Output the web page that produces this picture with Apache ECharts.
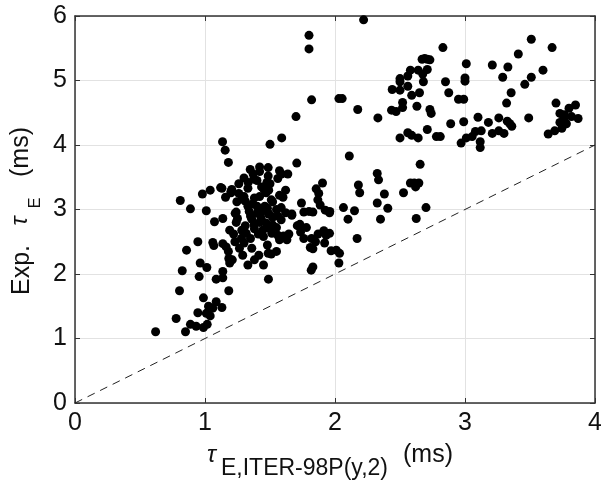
<!DOCTYPE html>
<html>
<head>
<meta charset="utf-8">
<script src="https://cdn.jsdelivr.net/npm/echarts@6/dist/echarts.min.js"></script>
<style>html,body{margin:0;padding:0;background:#fff}#c{width:601px;height:482px}</style>
</head>
<body>
<div id="c"></div>
<script>
// τ_E,ITER-98P(y,2) (ms) — scaling prediction
var tauScaling = [
1.80,1.80,1.82,2.03,1.70,1.59,1.50,1.135,1.155,1.18,1.706,2.22,2.83,3.51,3.67,3.41,2.67,2.69,2.71,2.73,
3.01,3.21,3.33,3.60,2.58,2.64,2.71,2.56,2.50,2.675,3.29,3.51,3.00,3.00,2.85,2.68,2.50,3.46,2.56,2.44,
2.50,2.65,2.59,2.875,3.355,2.055,2.95,2.99,2.52,2.175,2.435,2.47,2.52,2.63,2.73,2.74,3.32,3.70,2.33,2.89,
2.99,3.10,3.18,3.26,3.49,3.325,3.345,3.36,3.73,3.80,3.85,3.87,3.78,3.745,3.69,3.64,3.765,3.82,3.73,3.76,
2.71,2.56,2.59,2.64,2.50,2.78,2.81,2.97,3.01,3.055,3.08,3.125,3.117,3.117,3.21,3.26,3.30,2.11,2.655,2.325,
2.335,2.18,2.19,2.38,2.58,2.61,2.645,2.62,2.527,2.325,2.406,2.70,2.065,2.15,1.96,2.10,2.35,2.625,2.17,1.958,
1.958,1.97,2.01,2.035,2.03,
1.348,1.42,1.486,1.486,1.573,1.588,1.637,1.30,1.375,1.332,1.435,1.476,1.49,1.45,1.33,1.13,1.206,1.04,0.98,1.158,
1.20,0.81,0.888,1.01,1.245,1.286,1.31,1.42,1.51,1.573,1.60,1.586,1.368,1.34,1.24,1.427,1.488,1.668,1.742,1.904,
1.855,1.875,1.868,1.886,1.925,1.76,1.83,1.80,1.073,1.137,1.232,1.24,1.19,1.22,1.283,1.317,1.378,1.40,1.432,1.445,
1.47,1.49,1.514,1.573,1.604,1.645,1.668,1.586,1.52,1.73,1.735,1.82,1.914,1.932,1.92,1.81,1.83,1.83,1.817,1.488,
1.33,1.29,1.414,1.486,1.51,1.265,1.183,1.19,1.21,1.163,1.137,1.06,1.068,0.945,0.858,0.963,1.014,0.825,0.955,1.086,
1.137,1.137,0.804,1.183,0.988,1.027,1.086,1.13,1.06,0.945,1.01,1.04,0.778,0.888,0.932,0.988,1.017,0.85,0.62,
1.12,1.20,1.26,1.30,1.42,1.46,1.52,1.40,1.46,1.55,1.62,1.36,1.42,1.38,1.50,1.45,1.35,1.28,1.25,1.56,
1.63,1.71,1.78,1.87,1.76,1.85,1.30,1.36,1.48,1.55,1.38,1.45,1.18,1.23,1.31,1.56,1.33,1.50,1.40,1.56,
1.26,1.37,1.62,1.44,1.52,1.35,1.48,1.41,1.29,1.55,1.47,1.38
];
// Exp. τ_E (ms) — measured
var tauExp = [
5.70,5.49,4.70,4.72,4.44,4.11,4.01,4.05,3.92,3.73,3.72,5.94,5.51,5.64,5.51,5.41,5.33,5.34,5.33,5.32,
5.26,5.24,5.21,5.16,5.16,5.16,5.17,5.07,5.03,5.10,5.05,5.05,5.04,4.99,4.98,4.98,4.98,4.94,4.91,4.86,
4.85,4.81,4.77,4.81,4.81,4.72,4.71,4.71,4.66,4.55,4.54,4.52,4.58,4.60,4.55,4.49,4.65,4.65,4.42,4.33,
4.36,4.43,4.35,4.42,4.42,4.37,4.33,4.29,4.49,4.57,4.62,4.41,4.33,4.26,4.22,4.17,4.47,4.44,4.35,4.40,
4.24,4.19,4.15,4.11,4.11,4.13,4.13,4.03,4.11,4.13,4.21,4.22,4.05,3.96,4.18,4.22,4.18,3.83,3.70,3.56,
3.46,3.38,3.26,3.24,3.41,3.41,3.41,3.35,3.26,3.10,3.02,3.03,3.03,2.98,2.97,2.85,2.85,2.86,2.55,2.95,
2.63,2.36,2.37,2.32,2.17,
3.62,3.59,3.65,3.52,3.60,3.55,3.55,3.49,3.47,3.42,3.35,3.42,3.30,3.32,3.33,3.33,3.31,3.30,3.24,3.19,
3.28,3.14,3.01,2.98,3.12,3.16,3.13,3.20,3.15,3.22,3.19,3.03,3.09,2.97,2.96,3.00,2.94,2.93,3.10,3.41,
3.32,3.25,3.15,3.07,2.99,2.96,2.96,2.97,2.81,2.86,2.94,2.80,2.68,2.62,2.68,2.63,2.76,2.94,2.86,2.68,
2.79,2.93,2.63,2.53,2.59,2.62,2.91,2.84,2.76,2.77,2.65,2.55,2.67,2.60,2.48,2.41,2.39,2.11,2.06,1.92,
2.14,2.29,2.29,2.32,2.31,2.40,2.24,2.17,2.22,2.42,2.47,2.49,2.44,2.50,2.37,2.17,2.10,2.05,1.96,1.92,
1.94,2.04,1.74,1.74,1.63,1.50,1.57,1.48,1.47,1.40,1.39,1.35,1.31,1.22,1.19,1.17,1.22,1.105,1.105,
3.34,3.26,3.25,3.20,3.66,3.31,3.12,3.05,3.05,3.00,2.95,2.85,2.80,2.70,2.70,2.58,2.55,2.55,2.86,2.60,
2.53,2.75,2.72,2.62,2.55,2.50,2.48,2.40,2.45,2.35,2.22,2.14,2.35,2.50,2.75,2.90,3.05,3.40,3.45,3.48,
3.40,3.55,3.30,2.98,2.88,2.90,3.02,2.62,2.66,2.72,3.26,3.18
];
// y = x reference line endpoints
var refX = [0, 4];
var refY = [0, 4];
var xTicks = [0, 1, 2, 3, 4];
var yTicks = [0, 1, 2, 3, 4, 5, 6];

var pts = tauScaling.map(function (x, i) { return [x, tauExp[i]]; });
var refLine = refX.map(function (x, i) { return [x, refY[i]]; });

var FONT = 'Liberation Sans, Arial, sans-serif';
var axisCol = '#333';
function mkX(pos, primary) {
  return {
    type: 'value', position: pos, min: xTicks[0], max: xTicks[xTicks.length - 1], interval: 1,
    axisLine: { show: true, onZero: false, lineStyle: { color: axisCol, width: 1.5 } },
    axisTick: { show: true, inside: true, length: 5, lineStyle: { color: axisCol, width: 1 } },
    axisLabel: { show: primary, fontSize: 25, color: '#111', fontFamily: FONT, margin: 8, hideOverlap: false },
    splitLine: { show: primary, lineStyle: { color: '#e2e2e2', width: 1 } }
  };
}
function mkY(pos, primary) {
  return {
    type: 'value', position: pos, min: yTicks[0], max: yTicks[yTicks.length - 1], interval: 1,
    axisLine: { show: true, onZero: false, lineStyle: { color: axisCol, width: 1.5 } },
    axisTick: { show: true, inside: true, length: 5, lineStyle: { color: axisCol, width: 1 } },
    axisLabel: { show: primary, fontSize: 25, color: '#111', fontFamily: FONT, margin: 8, hideOverlap: false },
    splitLine: { show: primary, lineStyle: { color: '#e2e2e2', width: 1 } }
  };
}

var chart = echarts.init(document.getElementById('c'), null, { renderer: 'canvas' });
chart.setOption({
  animation: false,
  backgroundColor: '#fff',
  grid: { left: 75, right: 6, top: 16, bottom: 79, containLabel: false, outerBoundsMode: 'none' },
  xAxis: [mkX('bottom', true), mkX('top', false)],
  yAxis: [mkY('left', true), mkY('right', false)],
  series: [
    {
      type: 'line', data: refLine, xAxisIndex: 0, yAxisIndex: 0, symbol: 'none', z: 1,
      lineStyle: { color: '#222', width: 1, type: [8, 6] }
    },
    {
      type: 'scatter', data: pts, xAxisIndex: 0, yAxisIndex: 0, symbolSize: 9, z: 2,
      itemStyle: { color: '#000', opacity: 1 }
    }
  ],
  graphic: [
    { type: 'text', x: 207, y: 455, style: { text: 'τ', font: 'italic 24px ' + FONT, fill: '#111', textAlign: 'left', textVerticalAlign: 'middle' } },
    { type: 'text', x: 221, y: 469, style: { text: 'E,ITER-98P(y,2)', font: '23px ' + FONT, fill: '#111', textAlign: 'left', textVerticalAlign: 'middle' } },
    { type: 'text', x: 403, y: 455, style: { text: '(ms)', font: '25px ' + FONT, fill: '#111', textAlign: 'left', textVerticalAlign: 'middle' } },
    { type: 'text', x: 22, y: 270, rotation: Math.PI / 2, style: { text: 'Exp.', font: '25px ' + FONT, fill: '#111', textAlign: 'center', textVerticalAlign: 'middle' } },
    { type: 'text', x: 20, y: 221, rotation: Math.PI / 2, style: { text: 'τ', font: 'italic 24px ' + FONT, fill: '#111', textAlign: 'center', textVerticalAlign: 'middle' } },
    { type: 'text', x: 36, y: 203, rotation: Math.PI / 2, style: { text: 'E', font: '16px ' + FONT, fill: '#111', textAlign: 'center', textVerticalAlign: 'middle' } },
    { type: 'text', x: 21, y: 152, rotation: Math.PI / 2, style: { text: '(ms)', font: '25px ' + FONT, fill: '#111', textAlign: 'center', textVerticalAlign: 'middle' } }
  ]
});
</script>
</body>
</html>
